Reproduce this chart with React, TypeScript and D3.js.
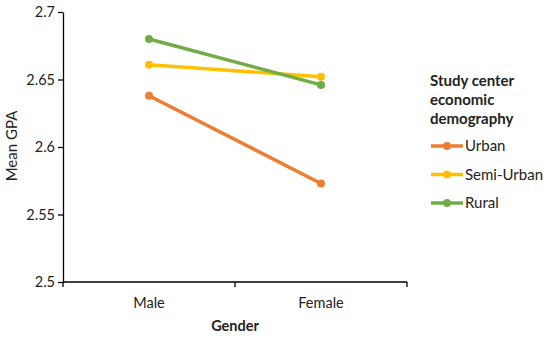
import React, { useEffect, useRef } from 'react';
import * as d3 from 'd3';

const genders = ['Male', 'Female'];
const urban = [2.638, 2.573];
const semiUrban = [2.661, 2.652];
const rural = [2.680, 2.646];
const yTicks = [2.5, 2.55, 2.6, 2.65, 2.7];

const series = [
  { name: 'Urban', values: urban, color: '#ED7D31' },
  { name: 'Semi-Urban', values: semiUrban, color: '#FFC000' },
  { name: 'Rural', values: rural, color: '#70AD47' },
];

const App = () => {
  const ref = useRef<SVGSVGElement>(null);

  useEffect(() => {
    const svg = d3.select(ref.current);
    svg.selectAll('*').remove();

    const font = 'Lato, Carlito, Calibri, sans-serif';
    const x = d3.scaleBand().domain(genders).range([63, 407]);
    const y = d3.scaleLinear().domain([2.5, 2.7]).range([282, 12]);

    // y axis
    const gy = svg.append('g').attr('transform', 'translate(63,0)')
      .call(d3.axisLeft(y).tickValues(yTicks).tickFormat(d => String(d)).tickSize(5).tickSizeOuter(0));
    gy.select('.domain').attr('stroke', '#000').attr('stroke-width', 1.3);
    gy.selectAll('line').attr('stroke', '#000').attr('stroke-width', 1.3);
    gy.selectAll('text').attr('font-family', font).attr('font-size', 14.5).attr('fill', '#222').attr('x', -8);

    // x axis
    const gx = svg.append('g').attr('transform', 'translate(0,282)');
    gx.append('line').attr('x1', 63).attr('x2', 407).attr('stroke', '#000').attr('stroke-width', 1.3);
    [x.range()[0], x('Female') as number, x.range()[1]].forEach(v => {
      gx.append('line').attr('x1', v).attr('x2', v).attr('y1', 0).attr('y2', 5)
        .attr('stroke', '#000').attr('stroke-width', 1.3);
    });
    genders.forEach(g => {
      gx.append('text').attr('x', (x(g) as number) + x.bandwidth() / 2).attr('y', 26)
        .attr('text-anchor', 'middle').attr('font-family', font).attr('font-size', 14.5).attr('fill', '#222').text(g);
    });

    svg.append('text').attr('x', 235).attr('y', 331).attr('text-anchor', 'middle')
      .attr('font-family', font).attr('font-size', 14.5).attr('font-weight', 'bold').attr('fill', '#222').text('Gender');
    svg.append('text').attr('transform', 'translate(17,146) rotate(-90)').attr('text-anchor', 'middle')
      .attr('font-family', font).attr('font-size', 15).attr('fill', '#222').text('Mean GPA');

    const cx = (g: string) => (x(g) as number) + x.bandwidth() / 2;
    const line = d3.line<number>().x((_, i) => cx(genders[i])).y(d => y(d));

    series.forEach(s => {
      svg.append('path').attr('d', line(s.values)).attr('fill', 'none')
        .attr('stroke', s.color).attr('stroke-width', 3.5);
      s.values.forEach((v, i) => {
        svg.append('circle').attr('cx', cx(genders[i])).attr('cy', y(v)).attr('r', 4).attr('fill', s.color);
      });
    });

    // legend
    const title = ['Study center', 'economic', 'demography'];
    title.forEach((t, i) => {
      svg.append('text').attr('x', 430).attr('y', 86 + i * 19).attr('font-family', font)
        .attr('font-size', 15).attr('font-weight', 'bold').attr('fill', '#222').text(t);
    });
    series.forEach((s, i) => {
      const ly = 146 + i * 28.5;
      svg.append('line').attr('x1', 431).attr('x2', 463).attr('y1', ly).attr('y2', ly)
        .attr('stroke', s.color).attr('stroke-width', 3.5);
      svg.append('circle').attr('cx', 447).attr('cy', ly).attr('r', 4).attr('fill', s.color);
      svg.append('text').attr('x', 465).attr('y', ly + 5).attr('font-family', font)
        .attr('font-size', 15).attr('fill', '#222').text(s.name);
    });
  }, []);

  return <svg ref={ref} width={550} height={338} style={{ position: 'absolute', left: 0, top: 0 }} />;
};

export default App;
